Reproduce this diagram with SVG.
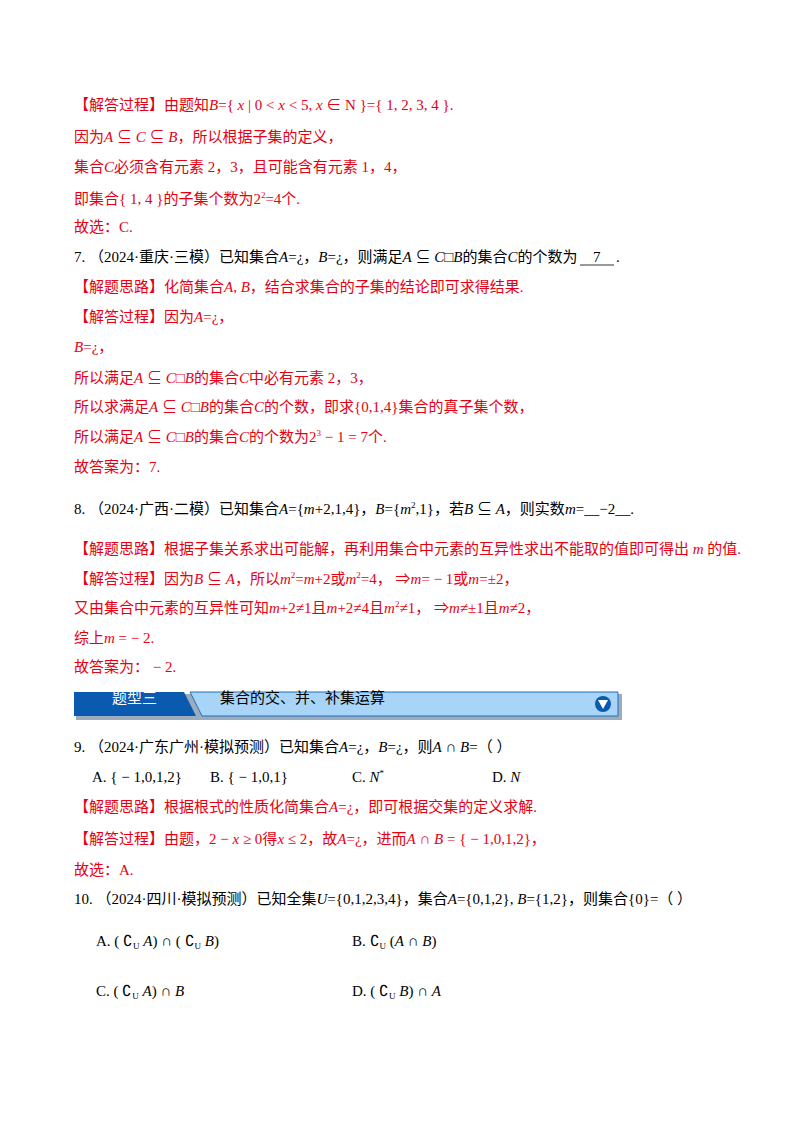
<svg xmlns="http://www.w3.org/2000/svg" width="800" height="1132" viewBox="0 0 800 1132">
<style>
text{font-family:"Liberation Serif","Noto Sans CJK SC",serif;font-size:15px;fill:#000}
.r{fill:#e60012}
.i{font-style:italic}
.b{fill:#fff;font-family:"Noto Sans CJK SC",sans-serif;font-size:15px}
.h{font-family:"Noto Sans CJK SC",sans-serif;font-size:15px}
</style>
<rect width="800" height="1132" fill="#fff"/>
<g id="sol6">
<text class="r" x="74" y="110">【解答过程】由题知<tspan class="i">B</tspan>={ <tspan class="i">x</tspan> | 0 &lt; <tspan class="i">x</tspan> &lt; 5, <tspan class="i">x</tspan> ∈ N }={ 1, 2, 3, 4 }.</text>
<text class="r" x="74" y="142">因为<tspan class="i">A</tspan> ⊆ <tspan class="i">C</tspan> ⊆ <tspan class="i">B</tspan>，所以根据子集的定义，</text>
<text class="r" x="74" y="172">集合<tspan class="i">C</tspan>必须含有元素 2，3，且可能含有元素 1，4，</text>
<text class="r" x="74" y="204">即集合{ 1, 4 }的子集个数为2<tspan dy="-6" font-size="9">2</tspan><tspan dy="6">=4个.</tspan></text>
<text class="r" x="74" y="232">故选：C.</text>
</g>
<g id="q7">
<text x="74" y="262">7. （2024·重庆·三模）已知集合<tspan class="i">A</tspan>=¿，<tspan class="i">B</tspan>=¿，则满足<tspan class="i">A</tspan> ⊆ <tspan class="i">C</tspan>□<tspan class="i">B</tspan>的集合<tspan class="i">C</tspan>的个数为</text>
<text x="593" y="262">7</text>
<text x="616" y="262">.</text>
<line x1="580" y1="265" x2="614" y2="265" stroke="#000" stroke-width="0.8"/>
<text class="r" x="74" y="292">【解题思路】化简集合<tspan class="i">A</tspan>, <tspan class="i">B</tspan>，结合求集合的子集的结论即可求得结果.</text>
<text class="r" x="74" y="322">【解答过程】因为<tspan class="i">A</tspan>=¿，</text>
<text class="r" x="74" y="352"><tspan class="i">B</tspan>=¿，</text>
<text class="r" x="74" y="383">所以满足<tspan class="i">A</tspan> ⊆ <tspan class="i">C</tspan>□<tspan class="i">B</tspan>的集合<tspan class="i">C</tspan>中必有元素 2，3，</text>
<text class="r" x="74" y="412">所以求满足<tspan class="i">A</tspan> ⊆ <tspan class="i">C</tspan>□<tspan class="i">B</tspan>的集合<tspan class="i">C</tspan>的个数，即求{0,1,4}集合的真子集个数，</text>
<text class="r" x="74" y="442">所以满足<tspan class="i">A</tspan> ⊆ <tspan class="i">C</tspan>□<tspan class="i">B</tspan>的集合<tspan class="i">C</tspan>的个数为2<tspan dy="-6" font-size="9">3</tspan><tspan dy="6"> − 1 = 7个.</tspan></text>
<text class="r" x="74" y="472">故答案为：7.</text>
</g>
<g id="q8">
<text x="74" y="514">8. （2024·广西·二模）已知集合<tspan class="i">A</tspan>={<tspan class="i">m</tspan>+2,1,4}，<tspan class="i">B</tspan>={<tspan class="i">m</tspan><tspan dy="-6" font-size="9">2</tspan><tspan dy="6">,1}，若</tspan><tspan class="i">B</tspan> ⊆ <tspan class="i">A</tspan>，则实数<tspan class="i">m</tspan>=__−2__.</text>
<text class="r" x="74" y="554">【解题思路】根据子集关系求出可能解，再利用集合中元素的互异性求出不能取的值即可得出 <tspan class="i">m</tspan> 的值.</text>
<text class="r" x="74" y="584">【解答过程】因为<tspan class="i">B</tspan> ⊆ <tspan class="i">A</tspan>，所以<tspan class="i">m</tspan><tspan dy="-6" font-size="9">2</tspan><tspan dy="6">=</tspan><tspan class="i">m</tspan>+2或<tspan class="i">m</tspan><tspan dy="-6" font-size="9">2</tspan><tspan dy="6">=4，  ⇒</tspan><tspan class="i">m</tspan>= − 1或<tspan class="i">m</tspan>=±2，</text>
<text class="r" x="74" y="613">又由集合中元素的互异性可知<tspan class="i">m</tspan>+2≠1且<tspan class="i">m</tspan>+2≠4且<tspan class="i">m</tspan><tspan dy="-6" font-size="9">2</tspan><tspan dy="6">≠1，  ⇒</tspan><tspan class="i">m</tspan>≠±1且<tspan class="i">m</tspan>≠2，</text>
<text class="r" x="74" y="643">综上<tspan class="i">m</tspan> = − 2.</text>
<text class="r" x="74" y="672">故答案为： − 2.</text>
</g>
<g id="banner">
<rect x="76" y="694" width="546" height="26" fill="#3a5a80" opacity="0.5"/>
<polygon points="190,692 618,692 618,716 202,716" fill="#a8d4f8" stroke="#1f6fc0" stroke-width="1"/>
<polygon points="74,692 184,692 196,716 74,716" fill="#0a5ab0"/>
<circle cx="603" cy="704" r="8" fill="#0a5ab0"/>
<polygon points="598,700 608,700 603,709" fill="#fff"/>
<text class="b" x="112" y="703">题型三</text>
<text class="h" x="220" y="703">集合的交、并、补集运算</text>
</g>
<g id="q9">
<text x="74" y="752">9. （2024·广东广州·模拟预测）已知集合<tspan class="i">A</tspan>=¿，<tspan class="i">B</tspan>=¿，则<tspan class="i">A</tspan> ∩ <tspan class="i">B</tspan>=（    ）</text>
<text x="92" y="782">A. { − 1,0,1,2}</text>
<text x="210" y="782">B. { − 1,0,1}</text>
<text x="352" y="782">C. <tspan class="i">N</tspan><tspan dy="-6" font-size="9">*</tspan></text>
<text x="492" y="782">D. <tspan class="i">N</tspan></text>
<text class="r" x="74" y="812">【解题思路】根据根式的性质化简集合<tspan class="i">A</tspan>=¿，即可根据交集的定义求解.</text>
<text class="r" x="74" y="844">【解答过程】由题，2 − <tspan class="i">x</tspan> ≥ 0得<tspan class="i">x</tspan> ≤ 2，故<tspan class="i">A</tspan>=¿，进而<tspan class="i">A</tspan> ∩ <tspan class="i">B</tspan> = { − 1,0,1,2}，</text>
<text class="r" x="74" y="875">故选：A.</text>
</g>
<g id="q10">
<text x="74" y="904">10. （2024·四川·模拟预测）已知全集<tspan class="i">U</tspan>={0,1,2,3,4}，集合<tspan class="i">A</tspan>={0,1,2}, <tspan class="i">B</tspan>={1,2}，则集合{0}=（    ）</text>
<text x="96" y="946">A. ( ∁<tspan font-size="9" dy="3">U</tspan><tspan dy="-3"> </tspan><tspan class="i">A</tspan>) ∩ ( ∁<tspan font-size="9" dy="3">U</tspan><tspan dy="-3"> </tspan><tspan class="i">B</tspan>)</text>
<text x="352" y="946">B. ∁<tspan font-size="9" dy="3">U</tspan><tspan dy="-3"> (</tspan><tspan class="i">A</tspan> ∩ <tspan class="i">B</tspan>)</text>
<text x="96" y="996">C. ( ∁<tspan font-size="9" dy="3">U</tspan><tspan dy="-3"> </tspan><tspan class="i">A</tspan>) ∩ <tspan class="i">B</tspan></text>
<text x="352" y="996">D. ( ∁<tspan font-size="9" dy="3">U</tspan><tspan dy="-3"> </tspan><tspan class="i">B</tspan>) ∩ <tspan class="i">A</tspan></text>
</g>
</svg>
